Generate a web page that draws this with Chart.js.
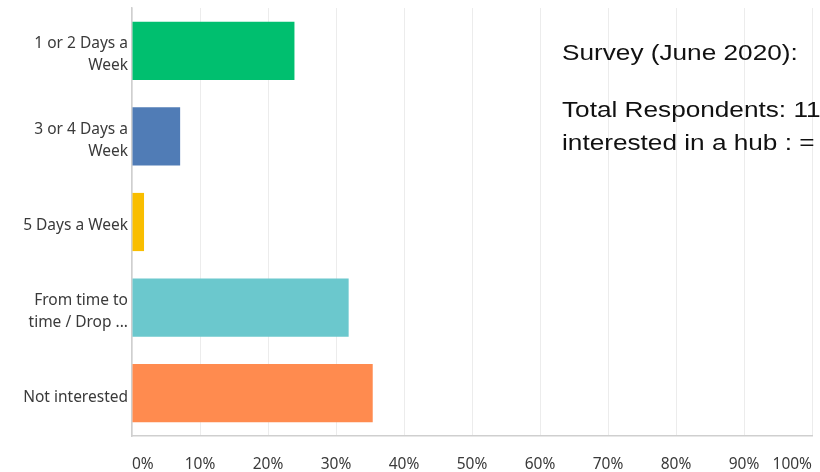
<!DOCTYPE html>
<html>
<head>
<meta charset="utf-8">
<script src="https://cdn.jsdelivr.net/npm/chart.js@4.4.1/dist/chart.umd.min.js"></script>
<style>
  html, body { margin: 0; padding: 0; background: #fff; }
  #wrap { width: 820px; height: 472px; }
</style>
</head>
<body>
<div id="wrap"><canvas id="surveyChart"></canvas></div>
<script>
// Data
const categories = [
  ['1 or 2 Days a', 'Week'],
  ['3 or 4 Days a', 'Week'],
  ['5 Days a Week'],
  ['From time to', 'time / Drop ...'],
  ['Not interested']
];
const percentages = [23.89, 7.08, 1.77, 31.86, 35.40];
const barColors = ['#00BF6F', '#507CB6', '#F9BE00', '#6BC8CD', '#FF8B4F'];
const noteLines = [
  { text: 'Survey (June 2020):', y: 60 },
  { text: 'Total Respondents: 11', y: 117 },
  { text: 'interested in a hub : =', y: 150 }
];

const labelFont = '"Noto Sans", "Open Sans", sans-serif',
      textColor = '#3a3a3a',
      gridColor = '#ececec',
      axisColor = '#cfcfcf';

// Draws the survey note over the plot (text is slightly wide in the original)
const notePlugin = {
  id: 'note',
  afterDraw(chart) {
    const ctx = chart.ctx;
    ctx.save();
    ctx.fillStyle = '#111';
    ctx.font = '22px "Liberation Sans", Arial, sans-serif';
    ctx.textBaseline = 'alphabetic';
    ctx.textAlign = 'left';
    ctx.translate(562, 0);
    ctx.scale(1.19, 1);
    for (const line of noteLines) {
      ctx.fillText(line.text, 0, line.y);
    }
    ctx.restore();
  }
};

const chart = new Chart(document.getElementById('surveyChart'), {
  type: 'bar',
  data: {
    labels: categories,
    datasets: [{
      data: percentages,
      backgroundColor: barColors,
      borderWidth: 0,
      barPercentage: 0.68,
      categoryPercentage: 1.0
    }]
  },
  options: {
    indexAxis: 'y',
    responsive: true,
    maintainAspectRatio: false,
    animation: false,
    layout: { padding: { top: 8, right: 8, left: 0, bottom: 0 } },
    plugins: {
      legend: { display: false },
      tooltip: { enabled: false }
    },
    scales: {
      x: {
        min: 0,
        max: 100,
        grid: { color: gridColor, drawTicks: false },
        border: { color: axisColor, width: 1.5 },
        ticks: {
          stepSize: 10,
          align: 'inner',
          padding: 19,
          color: textColor,
          font: { family: labelFont, size: 15.5 },
          callback: (v) => v + '%'
        },
        afterFit: (scale) => {
          scale.height = 36;
          scale.paddingLeft = 0;
          scale.paddingRight = 0;
        }
      },
      y: {
        grid: { display: false, drawTicks: false },
        border: { color: axisColor, width: 1.5 },
        ticks: {
          padding: 4,
          labelOffset: 4,   // labels sit a little below the bar centres
          color: textColor,
          font: { family: labelFont, size: 15.5, lineHeight: 1.42 }
        },
        afterFit: (scale) => {
          scale.width = 132;
          scale.paddingTop = 0;
          scale.paddingBottom = 0;
        }
      }
    }
  },
  plugins: [notePlugin]
});
</script>
</body>
</html>
